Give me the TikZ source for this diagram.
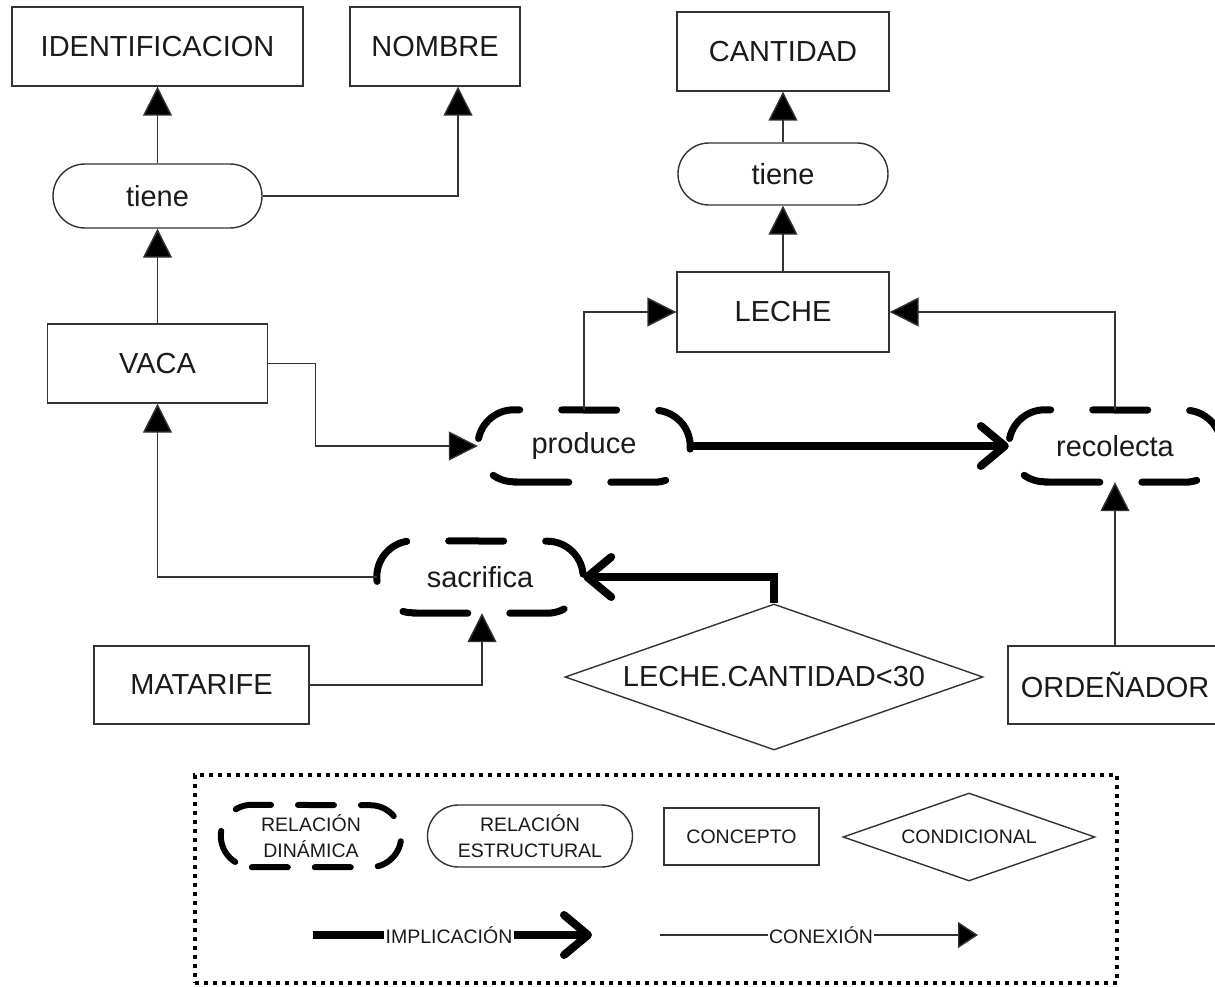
\documentclass[tikz,border=0pt]{standalone}
\usepackage{fontspec}
\setmainfont{Liberation Sans}
\usetikzlibrary{arrows.meta,shapes.misc,shapes.geometric,calc}
\definecolor{linec}{HTML}{333333}
\definecolor{textc}{HTML}{1A1A1A}
\newcommand\bigfont{\fontsize{29}{34}\selectfont}
\newcommand\legfont{\fontsize{19.5}{26}\selectfont}
\newcommand\dynpath[3]{%
  \draw[#3] ($(#1.south west)+(#2,0)$) -- ($(#1.south east)+(-#2,0)$)
    arc[start angle=90,end angle=-90,radius=#2]
    -- ($(#1.north west)+(#2,0)$)
    arc[start angle=-90,end angle=-270,radius=#2] -- cycle;}
\tikzset{
  concept/.style={draw=linec, line width=1.4pt, rectangle, inner sep=0pt, text=textc, font=\bigfont},
  structrel/.style={draw=linec, line width=1.4pt, rounded rectangle, inner sep=0pt, text=textc, font=\bigfont},
  dynrel/.style={rectangle, draw=none, inner sep=0pt, text=textc, font=\bigfont},
  condnode/.style={draw=linec, line width=1.4pt, diamond, aspect=2.86, inner sep=0pt, text=textc, font=\bigfont},
  dynline/.style={line width=7pt, line cap=round, dash pattern=on 55pt off 42pt, black},
  legdynline/.style={line width=6pt, line cap=round, dash pattern=on 36pt off 27pt, black},
  conn/.style={draw=linec, line width=1.4pt, -{Triangle[length=29pt,width=29pt,fill=black]}},
  impl/.style={draw=black, line width=8pt, -{Straight Barb[length=24pt,width=40pt,round]}},
  legframe/.style={draw=black, line width=4pt, dash pattern=on 4pt off 5pt, rectangle, inner sep=0pt},
  leglabel/.style={inner sep=1pt, text=textc, font=\legfont},
}
\begin{document}
\begin{tikzpicture}[x=1pt,y=-1pt]
\useasboundingbox (0,0) rectangle (1215,987);
% concepts
\node[concept, minimum width=291pt, minimum height=79pt] (ident) at (157.5,46.5) {IDENTIFICACION};
\node[concept, minimum width=170pt, minimum height=79pt] (nombre) at (435,46.5) {NOMBRE};
\node[structrel, minimum width=209pt, minimum height=64pt] (tieneA) at (157.5,196) {tiene};
\node[concept, minimum width=220pt, minimum height=79pt] (vaca) at (157.5,363.5) {VACA};
\node[concept, minimum width=212pt, minimum height=79pt] (cant) at (783,51.5) {CANTIDAD};
\node[structrel, minimum width=210pt, minimum height=62pt] (tieneB) at (783,174) {tiene};
\node[concept, minimum width=212pt, minimum height=80pt] (leche) at (783,312) {LECHE};
\node[dynrel, minimum width=212pt, minimum height=72pt] (produce) at (584,446) {produce};
\node[dynrel, minimum width=212pt, minimum height=72pt] (recolecta) at (1115,446) {recolecta};
\node[dynrel, minimum width=206pt, minimum height=72pt] (sacrifica) at (480,577) {sacrifica};
\node[concept, minimum width=215pt, minimum height=78pt] (matarife) at (201.5,685) {MATARIFE};
\node[condnode, minimum width=418pt, minimum height=146pt] (cond) at (774,677) {LECHE.CANTIDAD<30};
\node[concept, minimum width=214pt, minimum height=78pt] (orden) at (1115,685) {ORDEÑADOR};
\dynpath{produce}{36}{dynline}
\dynpath{recolecta}{36}{dynline}
\dynpath{sacrifica}{36}{dynline}
% connectors
\draw[conn] (tieneA.north) -- (ident.south);
\draw[conn] (tieneA.east) -| ($(nombre.south)+(23,0)$);
\draw[conn] (vaca.north) -- (tieneA.south);
\draw[conn] (vaca.east) -- ++(47,0) |- (produce.west);
\draw[conn] (produce.north) |- (leche.west);
\draw[conn] (recolecta.north) |- (leche.east);
\draw[conn] (leche.north) -- (tieneB.south);
\draw[conn] (tieneB.north) -- (cant.south);
\draw[impl] (produce.east) -- (recolecta.west);
\draw[conn] (sacrifica.west) -| (vaca.south);
\draw[conn] (matarife.east) -| ($(sacrifica.south)+(2,0)$);
\draw[impl] (cond.north) |- (sacrifica.east);
\draw[conn] (orden.north) -- (recolecta.south);
% legend
\node[legframe, minimum width=922pt, minimum height=208pt] (legend) at (656,879) {};
\node[dynrel, font=\legfont, align=center, minimum width=180pt, minimum height=62pt] (legdyn) at (311,836) {RELACIÓN\\DINÁMICA};
\dynpath{legdyn}{31}{legdynline}
\node[structrel, font=\legfont, align=center, minimum width=205pt, minimum height=62pt] (legstr) at (530,836) {RELACIÓN\\ESTRUCTURAL};
\node[concept, font=\legfont, minimum width=155pt, minimum height=57pt] (legcon) at (741.5,836.5) {CONCEPTO};
\node[condnode, font=\legfont, minimum width=252pt, minimum height=88pt] (legcond) at (969,837) {CONDICIONAL};
\coordinate (ia) at (313,935);
\coordinate (ib) at (592,935);
\node[leglabel] (impltext) at (449,935) {IMPLICACIÓN};
\draw[line width=8pt] (ia) -- (impltext.west);
\draw[impl] (impltext.east) -- (ib);
\coordinate (ca) at (660,935);
\coordinate (cb) at (978,935);
\node[leglabel] (conntext) at (821,935) {CONEXIÓN};
\draw[draw=linec, line width=1.4pt] (ca) -- (conntext.west);
\draw[conn, -{Triangle[length=20pt,width=26pt,fill=black]}] (conntext.east) -- (cb);
\end{tikzpicture}
\end{document}
